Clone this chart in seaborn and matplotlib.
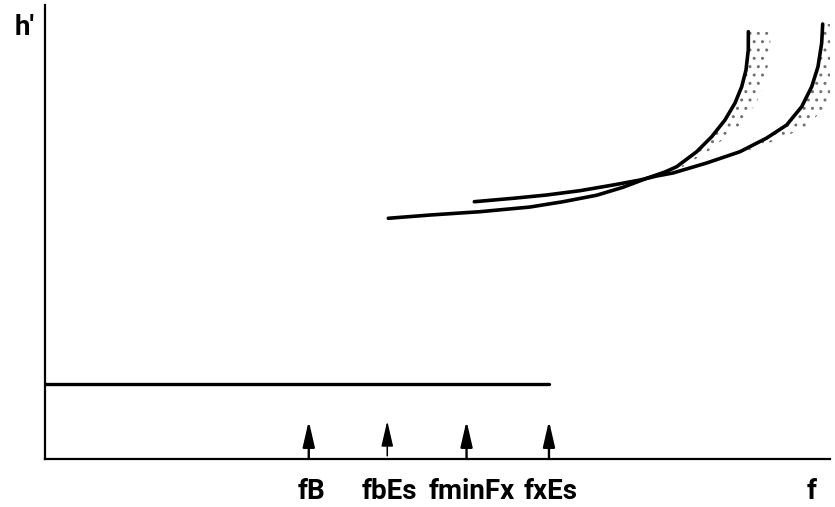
import matplotlib
matplotlib.use("Agg")
import matplotlib.pyplot as plt
import seaborn as sns
import pandas as pd

"""
Ionogram sketch: virtual height h' against frequency f,
with the Es trace and the two F-layer traces (o and x).
"""

# F trace, ordinary
f_o = [43.73, 49.04, 55.41, 61.78, 65.99, 70.28, 73.63, 76.65, 78.98,
       80.47, 83.02, 84.93, 86.62, 87.90, 88.75, 89.30, 89.59, 89.60]
h_o = [53.02, 53.74, 54.47, 55.50, 56.67, 58.10, 59.85, 61.83, 63.22,
       64.38, 67.69, 70.99, 74.67, 78.41, 82.00, 85.68, 90.09, 94.12]
band_o = [0, 0, 0, 0, 0, 0, 0, 0, 0.3, 0.8, 1.4, 1.9, 2.6, 2.7, 2.7, 2.7, 2.8, 2.8]

# F trace, extraordinary
f_x = [54.69, 59.62, 63.91, 68.15, 72.36, 75.80, 77.92, 80.00, 84.29,
       88.54, 91.94, 94.48, 96.39, 97.67, 98.47, 98.94, 99.07]
h_x = [56.67, 57.42, 58.15, 59.10, 60.35, 61.45, 62.33, 63.00, 65.20,
       67.69, 70.70, 73.57, 77.60, 82.00, 86.41, 91.63, 95.81]
band_x = [0, 0, 0, 0, 0, 0, 0, 0, 0, 0.6, 2.0, 2.8, 3.0, 3.1, 3.1, 3.1, 3.1]

# Es trace
f_es = [0.0, 64.2]
h_es = [16.5, 16.5]

# marked frequencies
marks = [33.6, 43.6, 53.7, 64.2]
mark_tip = 8.4
mark_base = [0.0, 0.7, 0.0, 0.0]
mark_lw = [1.7, 1.1, 1.7, 1.7]
tick_pos = [33.9, 43.9, 54.4, 64.4, 97.6]
tick_labels = ["fB", "fbEs", "fminFx", "fxEs", "f"]

sns.set_style("white")
plt.rcParams["font.family"] = ["Roboto", "DejaVu Sans"]
plt.rcParams["hatch.linewidth"] = 1.0
plt.rcParams["hatch.color"] = "0.45"

fig = plt.figure(figsize=(8.35, 5.07), dpi=100)
ax = fig.add_axes([45 / 835, 48 / 507, 785 / 835, 454 / 507])

for f, h, w in [(f_o, h_o, band_o), (f_x, h_x, band_x)]:
    right = [a + b for a, b in zip(f, w)]
    ax.fill_betweenx(h, f, right, facecolor="none", edgecolor="0.45",
                     hatch="..", linewidth=0)
    df = pd.DataFrame({"f": f, "h": h})
    sns.lineplot(data=df, x="f", y="h", sort=False, estimator=None,
                 color="black", linewidth=2.6, solid_joinstyle="round",
                 solid_capstyle="round", ax=ax)

sns.lineplot(x=f_es, y=h_es, color="black", linewidth=2.4, ax=ax)

for x, b, lw in zip(marks, mark_base, mark_lw):
    ax.annotate("", xy=(x, mark_tip), xytext=(x, b),
                arrowprops=dict(arrowstyle="-|>,head_width=0.3,head_length=1.3",
                                mutation_scale=12, color="black", lw=lw,
                                shrinkA=0, shrinkB=0))

ax.set_xlim(0, 100)
ax.set_ylim(0, 100)
ax.set_xticks(tick_pos)
ax.set_xticklabels(tick_labels, fontsize=20, fontweight="bold", color="black")
ax.tick_params(axis="x", length=0, pad=14)
ax.set_yticks([])
ax.set_xlabel("")
ax.set_ylabel("")
ax.text(-0.026, 0.95, "h'", transform=ax.transAxes, ha="center", va="center",
        fontsize=20, fontweight="bold", color="black")

for side in ["top", "right"]:
    ax.spines[side].set_visible(False)
for side in ["left", "bottom"]:
    ax.spines[side].set_color("black")
    ax.spines[side].set_linewidth(1.6)

fig.savefig("out.png", dpi=100)
